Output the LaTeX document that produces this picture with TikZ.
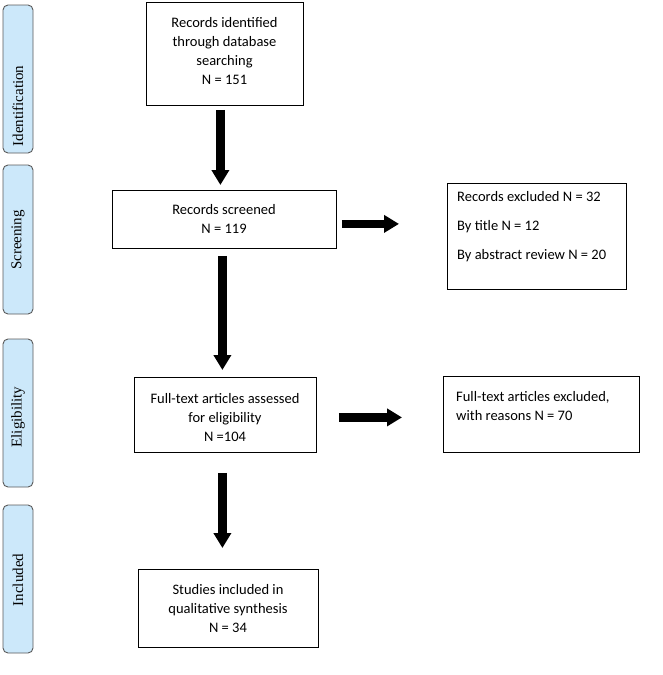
\documentclass[tikz,border=0pt]{standalone}
\usepackage{fontspec}
\setmainfont{Carlito}
\newfontfamily\sidefont{Liberation Serif}
\usetikzlibrary{arrows.meta,calc}
\definecolor{sidefill}{RGB}{204,232,250}
\definecolor{sideline}{RGB}{90,90,90}
\tikzset{
  box/.style={draw=black, line width=0.8pt, fill=white, inner sep=0pt, anchor=north west},
  txt/.style={font=\fontsize{14.5}{19}\selectfont, align=center, inner sep=0pt},
  ltxt/.style={font=\fontsize{14.5}{29}\selectfont, align=left, inner sep=0pt, anchor=north west},
  side/.style={draw=sideline, line width=0.9pt, fill=sidefill, rounded corners=5pt},
  sidetxt/.style={font=\sidefont\fontsize{15}{17}\selectfont, rotate=90, inner sep=0pt},
  fat/.style={line width=8.5pt, -{Triangle[length=15pt,width=17pt]}}
}
\begin{document}
\begin{tikzpicture}[x=1pt,y=-1pt]
\useasboundingbox (0,0) rectangle (663,675);
% side phase labels
\draw[side] (3,5) rectangle (33,153);
\node[sidetxt] (sid) at (18,106) {Identification};
\draw[side] (3,165) rectangle (33,314);
\node[sidetxt] (sscr) at (18,240) {Screening};
\draw[side] (3,339) rectangle (33,487);
\node[sidetxt] (selig) at (18,417) {Eligibility};
\draw[side] (3,505) rectangle (33,653);
\node[sidetxt] (sinc) at (18,580) {Included};
% boxes
\node[box, minimum width=157pt, minimum height=103pt] (top) at (146,2) {};
\node[txt] (toptxt) at (224.5,51) {Records identified\\through database\\searching\\N = 151};
\node[box, minimum width=224pt, minimum height=58pt] (scr) at (112,190) {};
\node[txt] (scrtxt) at (224,219) {Records screened\\N = 119};
\node[box, minimum width=179pt, minimum height=106pt] (excl) at (447,183) {};
\node[ltxt] (excltxt) at (457,191) {Records excluded N = 32\\By title N = 12\\By abstract review N = 20};
\node[box, minimum width=182pt, minimum height=75pt] (ft) at (134,377) {};
\node[txt] (fttxt) at (225,418) {Full-text articles assessed\\for eligibility\\N =104};
\node[box, minimum width=196pt, minimum height=76pt] (ftex) at (443,376) {};
\node[ltxt, font=\fontsize{14.5}{19}\selectfont] (ftextxt) at (456,391) {Full-text articles excluded,\\with reasons N = 70};
\node[box, minimum width=180pt, minimum height=78pt] (inc) at (138,569) {};
\node[txt] (inctxt) at (228,609) {Studies included in\\qualitative synthesis\\N = 34};
% arrows
\coordinate (a1s) at ([xshift=-4.5pt,yshift=-4pt]top.south);
\draw[fat] (a1s) -- ([yshift=5pt]scr.north -| a1s);
\coordinate (a2s) at ([xshift=-2pt,yshift=-7pt]scr.south);
\draw[fat] (a2s) -- ([yshift=7pt]ft.north -| a2s);
\coordinate (a3s) at ([xshift=-3pt,yshift=-20pt]ft.south);
\draw[fat] (a3s) -- ([yshift=21pt]inc.north -| a3s);
\coordinate (a4s) at ([xshift=5pt,yshift=-4.5pt]scr.east);
\draw[fat] (a4s) -- ([xshift=-48pt]excl.west |- a4s);
\coordinate (a5s) at ([xshift=22pt,yshift=-2.5pt]ft.east);
\draw[fat] (a5s) -- ([xshift=-41pt]ftex.west |- a5s);
\end{tikzpicture}
\end{document}
